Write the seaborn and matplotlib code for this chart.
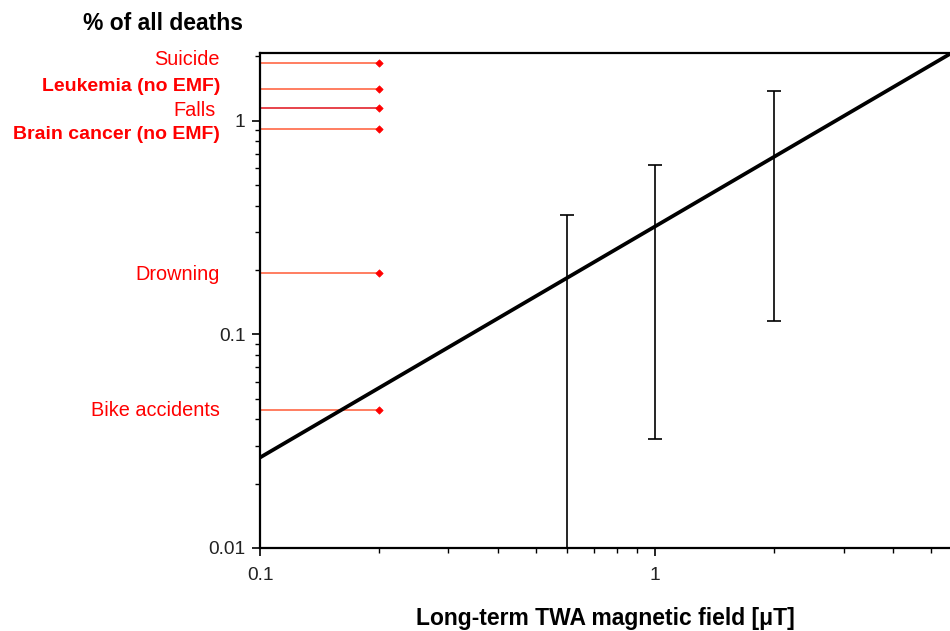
import numpy as np
import pandas as pd
import matplotlib
matplotlib.use("Agg")
import matplotlib.pyplot as plt
import matplotlib.transforms as mtransforms
from matplotlib.ticker import LogLocator, FixedLocator, FixedFormatter, NullFormatter
import seaborn as sns

# ---- data ----
fit_x = [0.1, 5.58]
fit_y = [0.0265, 2.05]

bar_x = [0.6, 1.0, 2.0]
bar_low = [0.004, 0.0324, 0.1157]
bar_high = [0.363, 0.62, 1.37]

risk_labels = ["Suicide", "Leukemia (no EMF)", "Falls", "Brain cancer (no EMF)",
               "Drowning", "Bike accidents"]
risk_values = [1.85, 1.41, 1.14, 0.91, 0.194, 0.0443]
risk_x = 0.2
risk_bold = [False, True, False, True, False, False]

x_ticks = [0.1, 1]
x_ticklabels = ["0.1", "1"]
y_ticks = [0.01, 0.1, 1]
y_ticklabels = ["0.01", "0.1", "1"]

# ---- style ----
sns.set_theme(style="white")
plt.rcParams['font.family'] = ['Liberation Sans', 'DejaVu Sans']

fig = plt.figure(figsize=(9.5, 6.31), dpi=100)
ax = fig.add_axes([260/950, 1-548/631, 1-260/950, (548-53)/631])
ax.set_xscale("log")
ax.set_yscale("log")
ax.set_xlim(0.1, 5.58)
ax.set_ylim(0.01, 2.07)

# fit line
df_fit = pd.DataFrame({"x": fit_x, "y": fit_y})
sns.lineplot(data=df_fit, x="x", y="y", ax=ax, color="black", linewidth=2.7, zorder=3)

# error bars
lo = np.array(bar_low)
hi = np.array(bar_high)
ax.errorbar(bar_x, lo, yerr=[np.zeros_like(lo), hi - lo], fmt="none",
            ecolor="black", elinewidth=1.2, capsize=5.2, capthick=1.2, zorder=2)

# risk reference lines
line_cols = ["#ff5a36", "#ff5a36", "#e0101a", "#ff5a36", "#ff5a36", "#ff5a36"]
for v, c in zip(risk_values, line_cols):
    ax.hlines(v, 0.1, risk_x, color=c, linewidth=1.1, zorder=2)
df_risk = pd.DataFrame({"x": [risk_x] * len(risk_values), "y": risk_values})
sns.scatterplot(data=df_risk, x="x", y="y", ax=ax, color="red", marker="D", s=14,
                edgecolor="red", linewidth=0.5, zorder=4)

# labels left of axes
label_dy = [2.5, 1.5, -1.5, -3.5, -1.5, -0.5]  # points
label_dx = [0, 0, -3, 0, 0, 0]  # points
trans = mtransforms.blended_transform_factory(ax.transAxes, ax.transData)
for lab, v, b, dy, dx in zip(risk_labels, risk_values, risk_bold, label_dy, label_dx):
    off = mtransforms.offset_copy(trans, fig=fig, x=dx, y=dy, units="points")
    ax.text(-40/690, v, lab, transform=off, ha="right", va="center",
            color="#ff0000", fontsize=14 if b else 14.3,
            fontweight="bold" if b else "normal")

# ticks
ax.xaxis.set_major_locator(FixedLocator(x_ticks))
ax.xaxis.set_major_formatter(FixedFormatter(x_ticklabels))
ax.yaxis.set_major_locator(FixedLocator(y_ticks))
ax.yaxis.set_major_formatter(FixedFormatter(y_ticklabels))
ax.xaxis.set_minor_locator(LogLocator(base=10, subs=np.arange(2, 10)))
ax.yaxis.set_minor_locator(LogLocator(base=10, subs=np.arange(2, 10)))
ax.xaxis.set_minor_formatter(NullFormatter())
ax.yaxis.set_minor_formatter(NullFormatter())
ax.tick_params(axis="both", which="major", direction="out", length=5.5, width=1.2,
               color="black", labelsize=13.8, labelcolor="#222222",
               bottom=True, left=True, top=False, right=False)
ax.tick_params(axis="both", which="minor", direction="out", length=3.5, width=1,
               color="black", bottom=True, left=True, top=False, right=False)
ax.tick_params(axis="y", which="major", pad=5)
ax.tick_params(axis="x", which="major", pad=8)

for s in ["left", "bottom", "top"]:
    ax.spines[s].set_visible(True)
    ax.spines[s].set_color("black")
    ax.spines[s].set_linewidth(1.6)
ax.spines["right"].set_visible(False)

ax.set_xlabel("Long-term TWA magnetic field [\u03bcT]", fontsize=16.5, fontweight="bold",
              color="black", labelpad=17)
ax.set_ylabel("")
fig.text(83/950, 1-23/631, "% of all deaths", fontsize=16.5, fontweight="bold",
         color="black", ha="left", va="center")

fig.savefig("out.png", dpi=100)
